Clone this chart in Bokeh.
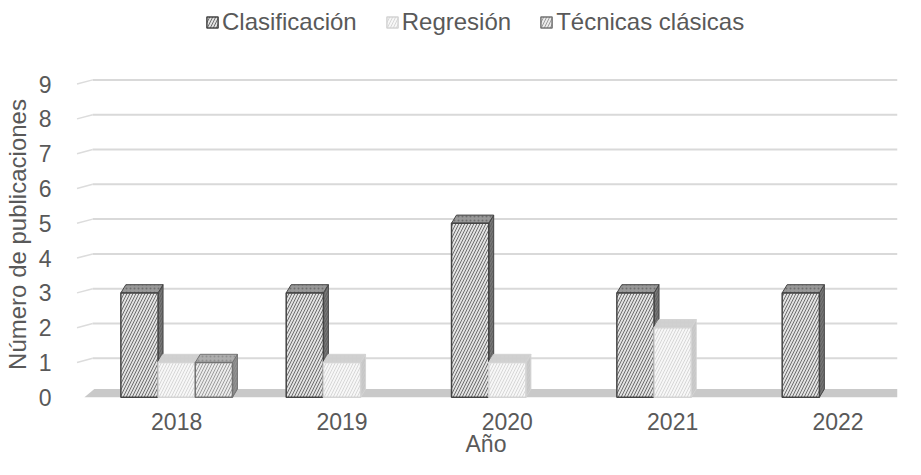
from bokeh.plotting import figure
from bokeh.layouts import column
from bokeh.models import FixedTicker, Legend, LegendItem, ColumnDataSource
from bokeh.embed import file_html
from bokeh.resources import INLINE

# ---- data ----
years = ["2018", "2019", "2020", "2021", "2022"]
series_names = ["Clasificación", "Regresión", "Técnicas clásicas"]
clasificacion = [3, 3, 5, 3, 3]
regresion = [1, 1, 1, 2, 0]
tecnicas = [1, 0, 0, 0, 0]
y_ticks = [0, 1, 2, 3, 4, 5, 6, 7, 8, 9]
x_title = "Año"
y_title = "Número de publicaciones"

values = [clasificacion, regresion, tecnicas]

# ---- styling ----
FONT = "Liberation Sans"
TXT = "#595959"
BAR_W = 0.225          # bar width in category units
OFFSETS = [-0.225, 0.0, 0.225]
DX, DY = 0.03, 0.235   # 3D depth offsets
GD = 0.12              # back-wall offset of gridlines
X0, X1 = -0.618, 4.36
styles = [
    dict(front="#e2e2e2", hatch="#606060", line="#444444", top="#989898", side="#787878"),
    dict(front="#f7f7f7", hatch="#d2d2d2", line="#d4d4d4", top="#cfcfcf", side="#c6c6c6"),
    dict(front="#ebebeb", hatch="#939393", line="#737373", top="#adadad", side="#929292"),
]
front_kw = lambda st: dict(fill_color=st["front"], line_color=st["line"], line_width=1.5,
                           hatch_pattern="/", hatch_color=st["hatch"], hatch_scale=6,
                           hatch_weight=0.9)

TOP_H = 62
p = figure(width=905, height=459 - TOP_H, output_backend="svg", toolbar_location=None,
           x_range=(X0, X1), y_range=(-0.265, 9.62),
           min_border_left=67, min_border_right=8, min_border_top=0, min_border_bottom=50)
p.outline_line_color = None
p.xgrid.visible = False
p.ygrid.visible = False

# floor
p.patch([X0 + 0.06, X1, X1, X0 + 0.12], [0, 0, DY, DY], fill_color="#c9c9c9", line_color=None)

# gridlines (back wall)
grid_vals = [v for v in y_ticks if v > 0]
p.segment(x0=[X0 + 0.11] * len(grid_vals), y0=[v + GD for v in grid_vals],
          x1=[X1] * len(grid_vals), y1=[v + GD for v in grid_vals],
          line_color="#d9d9d9", line_width=2)
p.segment(x0=[X0 + 0.015] * len(grid_vals), y0=grid_vals,
          x1=[X0 + 0.11] * len(grid_vals), y1=[v + GD for v in grid_vals],
          line_color="#dcdcdc", line_width=1.5)

sources = []
for name, vals, off, st in zip(series_names, values, OFFSETS, styles):
    idx = [i for i, v in enumerate(vals) if v > 0]
    lefts = [i + off - BAR_W / 2 for i in idx]
    rights = [i + off + BAR_W / 2 for i in idx]
    tops = [vals[i] for i in idx]
    # side faces
    side_xs = [[r, r + DX, r + DX, r] for r in rights]
    side_ys = [[0, DY, h + DY, h] for h in tops]
    p.patches(side_xs, side_ys, fill_color=st["side"], line_color=st["line"], line_width=1,
              hatch_pattern="/", hatch_color=st["line"], hatch_scale=5, hatch_alpha=0.5)
    # top faces
    top_xs = [[l, l + DX, r + DX, r] for l, r in zip(lefts, rights)]
    top_ys = [[h, h + DY, h + DY, h] for h in tops]
    p.patches(top_xs, top_ys, fill_color=st["top"], line_color=st["line"], line_width=1,
              hatch_pattern=".", hatch_color=st["line"], hatch_scale=4, hatch_alpha=0.5)
    # front faces
    src = ColumnDataSource(dict(left=lefts, right=rights, top=tops, bottom=[0] * len(idx)))
    sources.append(src)
    p.quad(left="left", right="right", top="top", bottom="bottom", source=src, **front_kw(st))

# axes
p.xaxis.ticker = FixedTicker(ticks=list(range(len(years))))
p.xaxis.major_label_overrides = {i: y for i, y in enumerate(years)}
p.yaxis.ticker = FixedTicker(ticks=y_ticks)
for ax in (p.xaxis[0], p.yaxis[0]):
    ax.axis_line_color = None
    ax.major_tick_line_color = None
    ax.minor_tick_line_color = None
    ax.major_tick_out = 0
    ax.major_tick_in = 0
    ax.major_label_text_font = FONT
    ax.major_label_text_font_size = "23px"
    ax.major_label_text_color = TXT
    ax.axis_label_text_font = FONT
    ax.axis_label_text_font_size = "23px"
    ax.axis_label_text_color = TXT
    ax.axis_label_text_font_style = "normal"
p.yaxis.axis_label_text_font_size = "24px"
p.xaxis.axis_label = x_title
p.yaxis.axis_label = y_title
p.xaxis.major_label_standoff = 6
p.xaxis.axis_label_standoff = -2
p.yaxis.major_label_standoff = 23
p.yaxis.axis_label_standoff = 5

# legend strip on top (separate small figure; its bars lie outside its view)
lg = figure(width=905, height=TOP_H, output_backend="svg", toolbar_location=None,
            x_axis_type=None, y_axis_type=None, x_range=(-100, -99), y_range=(-100, -99),
            min_border=0)
lg.outline_line_color = None
lg.xgrid.visible = False
lg.ygrid.visible = False
items = []
for name, st, src in zip(series_names, styles, sources):
    r = lg.quad(left="left", right="right", top="top", bottom="bottom", source=src, **front_kw(st))
    items.append(LegendItem(label=name, renderers=[r]))
legend = Legend(items=items, orientation="horizontal", location=(131, 26),
                label_text_font=FONT, label_text_font_size="24px", label_text_color=TXT,
                glyph_width=14, glyph_height=14, label_standoff=3, spacing=28,
                padding=0, margin=0, border_line_color=None, background_fill_alpha=0)
lg.add_layout(legend, "center")

layout = column(lg, p, spacing=0)
open("out.html", "w").write(file_html(layout, INLINE))
